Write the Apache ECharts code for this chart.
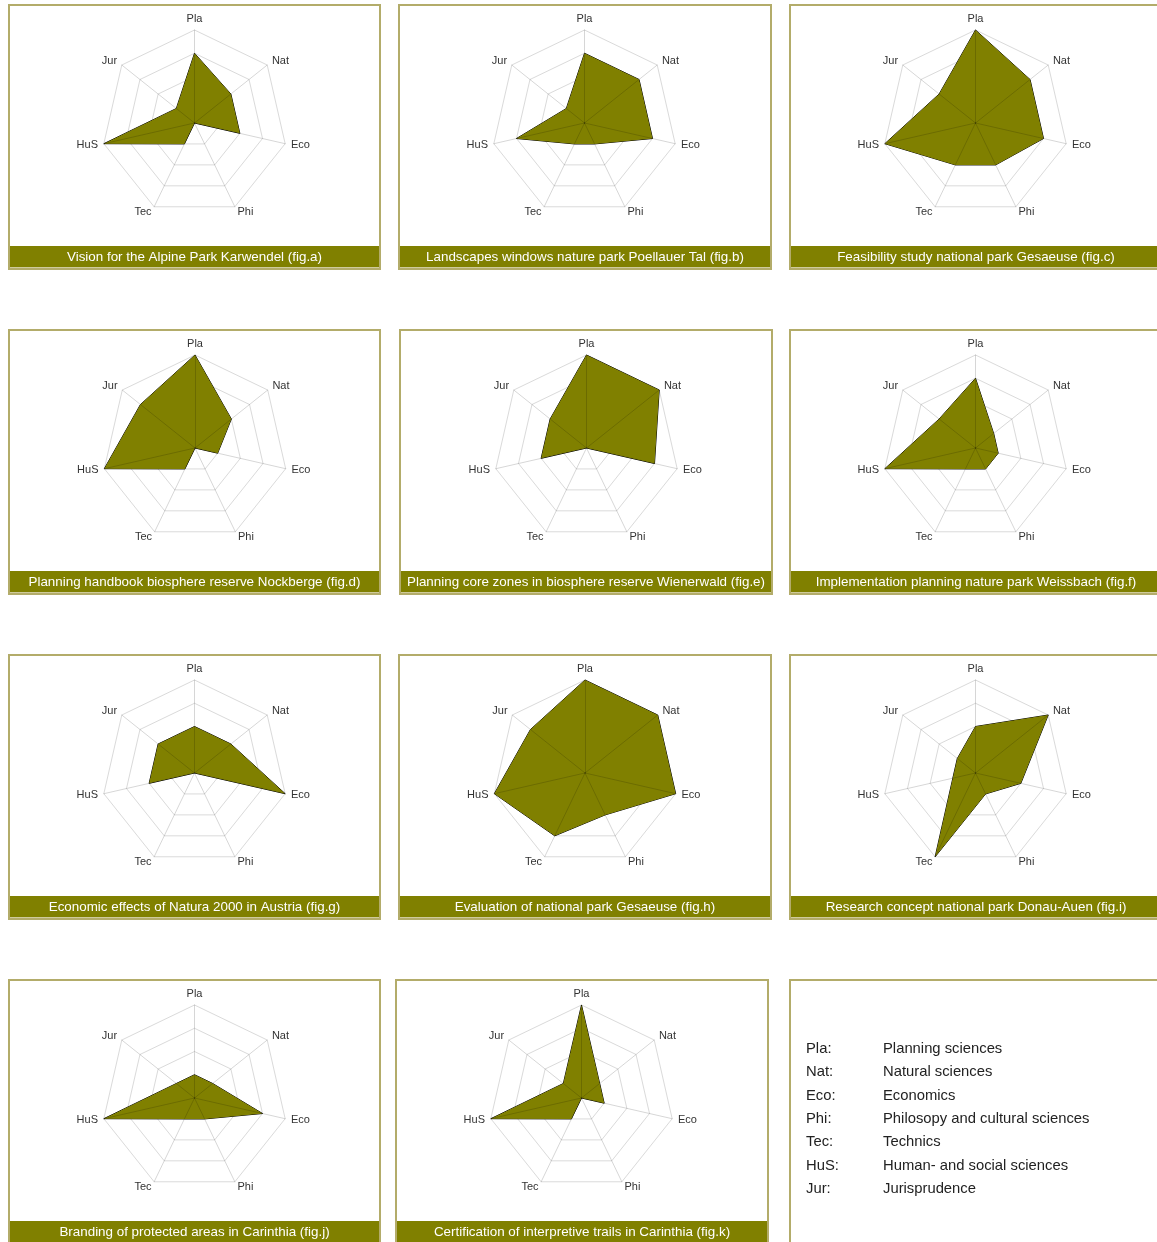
<!DOCTYPE html>
<html>
<head>
<meta charset="utf-8">
<script src="https://cdn.jsdelivr.net/npm/echarts@6/dist/echarts.min.js"></script>
<style>
html,body{margin:0;padding:0;background:#fff;}
#chart{width:1157px;height:1242px;}
</style>
</head>
<body>
<div id="chart"></div>
<script>
// ---------- data ----------
const categories = ['Pla', 'Nat', 'Eco', 'Phi', 'Tec', 'HuS', 'Jur'];
const scaleMax = 4;
const scaleSteps = 4;

const figA = [3, 2, 2, 0, 1, 4, 1];
const figB = [3, 3, 3, 1, 1, 3, 1];
const figC = [4, 3, 3, 2, 2, 4, 2];
const figD = [4, 2, 1, 0, 1, 4, 3];
const figE = [4, 4, 3, 0, 0, 2, 2];
const figF = [3, 1, 1, 1, 1, 4, 2];
const figG = [2, 2, 4, 0, 0, 2, 2];
const figH = [4, 4, 4, 2, 3, 4, 3];
const figI = [2, 4, 2, 1, 4, 1, 1];
const figJ = [1, 1, 3, 1, 1, 4, 1];
const figK = [4, 1, 1, 0, 1, 4, 1];

const figTitles = [
  'Vision for the Alpine Park Karwendel (fig.a)',
  'Landscapes windows nature park Poellauer Tal (fig.b)',
  'Feasibility study national park Gesaeuse (fig.c)',
  'Planning handbook biosphere reserve Nockberge (fig.d)',
  'Planning core zones in biosphere reserve Wienerwald (fig.e)',
  'Implementation planning nature park Weissbach (fig.f)',
  'Economic effects of Natura 2000 in Austria (fig.g)',
  'Evaluation of national park Gesaeuse (fig.h)',
  'Research concept national park Donau-Auen (fig.i)',
  'Branding of protected areas in Carinthia (fig.j)',
  'Certification of interpretive trails in Carinthia (fig.k)'
];

const legendCodes = ['Pla:', 'Nat:', 'Eco:', 'Phi:', 'Tec:', 'HuS:', 'Jur:'];
const legendNames = [
  'Planning sciences',
  'Natural sciences',
  'Economics',
  'Philosopy and cultural sciences',
  'Technics',
  'Human- and social sciences',
  'Jurisprudence'
];

// ---------- layout ----------
const FONT = '"Liberation Sans", Arial, sans-serif';
const figValues = [figA, figB, figC, figD, figE, figF, figG, figH, figI, figJ, figK];
const panelLayout = [
  { left: 8,   top: 4,   w: 373, cx: 194.5 },
  { left: 398, top: 4,   w: 374, cx: 584.5 },
  { left: 789, top: 4,   w: 374, cx: 975.5 },
  { left: 8,   top: 329, w: 373, cx: 195 },
  { left: 399, top: 329, w: 374, cx: 586.5 },
  { left: 789, top: 329, w: 374, cx: 975.5 },
  { left: 8,   top: 654, w: 373, cx: 194.5 },
  { left: 398, top: 654, w: 374, cx: 585 },
  { left: 789, top: 654, w: 374, cx: 975.5 },
  { left: 8,   top: 979, w: 373, cx: 194.5 },
  { left: 395, top: 979, w: 374, cx: 581.5 }
];
const legendBox = { left: 789, top: 979, w: 374 };
const PANEL_H = 266;
const RADIUS = 93;

// ECharts radar places indicators counter-clockwise from the top
const drawOrder = ['Pla', 'Jur', 'HuS', 'Tec', 'Phi', 'Eco', 'Nat'].map(n => categories.indexOf(n));

const radars = [];
const series = [];
const graphics = [];

panelLayout.forEach((p, i) => {
  const cy = p.top + 119;
  const indicator = drawOrder.map(k => ({ name: categories[k], min: 0, max: scaleMax }));
  // grid rings + names (below the area)
  radars.push({
    center: [p.cx, cy], radius: RADIUS, startAngle: 90,
    splitNumber: scaleSteps, shape: 'polygon',
    indicator: indicator,
    nameGap: 6,
    axisName: { color: '#333', fontSize: 11, fontFamily: FONT },
    splitLine: { lineStyle: { color: '#dadada', width: 1 } },
    splitArea: { show: false },
    axisLine: { show: false },
    axisTick: { show: false },
    axisLabel: { show: false },
    z: 0
  });
  // spokes drawn on top of the area
  radars.push({
    center: [p.cx, cy], radius: RADIUS, startAngle: 90,
    splitNumber: scaleSteps, shape: 'polygon',
    indicator: indicator,
    axisName: { show: false },
    splitLine: { show: false },
    splitArea: { show: false },
    axisLine: { lineStyle: { color: 'rgba(0,0,0,0.16)', width: 1 } },
    axisTick: { show: false },
    axisLabel: { show: false },
    z: 5
  });
  series.push({
    type: 'radar',
    radarIndex: 2 * i,
    silent: true,
    symbol: 'none',
    lineStyle: { color: '#000', width: 1 },
    areaStyle: { color: '#808000', opacity: 1 },
    data: [{ value: drawOrder.map(k => figValues[i][k]) }],
    z: 2
  });

  // frame
  graphics.push({
    type: 'rect', silent: true,
    shape: { x: p.left + 1, y: p.top + 1, width: p.w - 2, height: PANEL_H - 2 },
    style: { fill: null, stroke: '#b3ac6a', lineWidth: 2 }
  });
  graphics.push({
    type: 'rect', silent: true,
    shape: { x: p.left + 2, y: p.top + 242, width: p.w - 4, height: 21 },
    style: { fill: '#808000' }
  });
  graphics.push({
    type: 'rect', silent: true,
    shape: { x: p.left + 2, y: p.top + 263, width: p.w - 4, height: 1 },
    style: { fill: '#cfcb9c' }
  });
  graphics.push({
    type: 'text', silent: true,
    x: p.left + p.w / 2, y: p.top + 253.5,
    style: {
      text: figTitles[i], fill: '#ffffff',
      font: '13.4px ' + FONT, align: 'center', verticalAlign: 'middle'
    }
  });
});

// legend box
graphics.push({
  type: 'rect', silent: true,
  shape: { x: legendBox.left + 1, y: legendBox.top + 1, width: legendBox.w - 2, height: PANEL_H - 2 },
  style: { fill: null, stroke: '#b3ac6a', lineWidth: 2 }
});
legendCodes.forEach((code, i) => {
  const y = legendBox.top + 70 + i * 23.33;
  graphics.push({
    type: 'text', silent: true, x: legendBox.left + 17, y: y,
    style: { text: code, fill: '#222', font: '14.8px ' + FONT, align: 'left', verticalAlign: 'middle' }
  });
  graphics.push({
    type: 'text', silent: true, x: legendBox.left + 94, y: y,
    style: { text: legendNames[i], fill: '#222', font: '14.8px ' + FONT, align: 'left', verticalAlign: 'middle' }
  });
});

const chart = echarts.init(document.getElementById('chart'), null, { renderer: 'canvas' });
chart.setOption({
  animation: false,
  backgroundColor: '#ffffff',
  radar: radars,
  series: series,
  graphic: { elements: graphics }
});
</script>
</body>
</html>
